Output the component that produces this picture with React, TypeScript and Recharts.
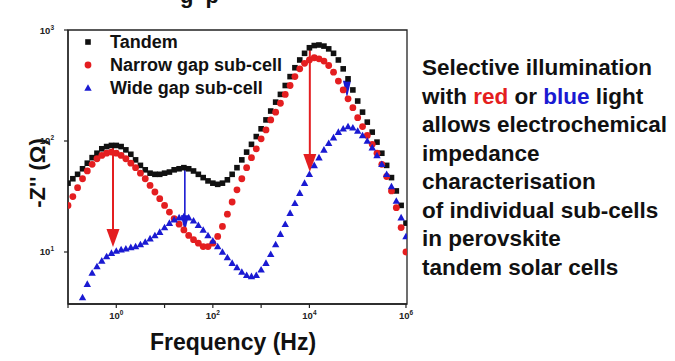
import { ScatterChart, Scatter, XAxis, YAxis, ReferenceLine, ReferenceArea, Legend } from 'recharts';

const FONT = '"Liberation Sans", Arial, Helvetica, sans-serif';

// frequency grid (Hz), 10 points per decade
const frequency = [
  0.1, 0.126, 0.158, 0.2, 0.251, 0.316, 0.398, 0.501, 0.631, 0.794,
  1, 1.26, 1.58, 2, 2.51, 3.16, 3.98, 5.01, 6.31, 7.94,
  10, 12.6, 15.8, 20, 25.1, 31.6, 39.8, 50.1, 63.1, 79.4,
  100, 126, 158, 200, 251, 316, 398, 501, 631, 794,
  1000, 1260, 1580, 2000, 2510, 3160, 3980, 5010, 6310, 7940,
  10000, 12600, 15800, 20000, 25100, 31600, 39800, 50100, 63100, 79400,
  100000, 126000, 158000, 200000, 251000, 316000, 398000, 501000, 631000, 794000,
  1000000,
];

// -Z'' (ohm)
const tandem = [
  41.7, 45.7, 50.1, 56.2, 63.1, 70.8, 77.6, 85.1, 89.1, 91.2,
  91.2, 89.1, 83.2, 75.9, 67.6, 60.3, 55.0, 51.3, 50.1, 50.1,
  51.3, 52.5, 55.0, 56.2, 57.5, 56.2, 53.7, 50.1, 46.8, 43.7,
  41.7, 40.7, 41.7, 44.7, 50.1, 57.5, 67.6, 79.4, 93.3, 109.6,
  128.8, 154.9, 186.2, 223.9, 263.0, 316.2, 380.2, 457.1, 537.0, 616.6,
  691.8, 724.4, 732.8, 716.1, 676.1, 616.6, 537.0, 446.7, 363.1, 288.4,
  229.1, 182.0, 147.9, 120.2, 97.7, 77.6, 60.3, 46.8, 35.5, 26.3,
  18.2,
];

const narrowGap = [
  26.3, 31.6, 38.0, 45.7, 53.7, 61.7, 69.2, 74.1, 77.6, 79.4,
  77.6, 74.1, 69.2, 63.1, 57.5, 51.3, 45.7, 39.8, 34.7, 30.2,
  26.3, 22.9, 20.0, 17.8, 15.8, 14.1, 12.9, 12.0, 11.2, 11.2,
  12.0, 13.8, 17.0, 21.9, 28.2, 36.3, 45.7, 57.5, 70.8, 85.1,
  104.7, 125.9, 154.9, 182.0, 218.8, 263.0, 316.2, 380.2, 446.7, 501.2,
  537.0, 562.3, 549.5, 524.8, 478.6, 416.9, 346.7, 288.4, 239.9, 199.5,
  162.2, 134.9, 112.2, 93.3, 77.6, 61.7, 47.9, 35.5, 25.1, 16.6,
  10.0,
];

const wideGap = [
  1.66, 2.19, 2.88, 3.89, 5.13, 6.46, 7.41, 8.32, 9.12, 9.77,
  10.2, 10.5, 10.7, 11.0, 11.2, 11.7, 12.3, 13.2, 14.1, 15.1,
  16.6, 18.2, 19.5, 20.4, 20.9, 20.4, 19.1, 17.4, 15.8, 14.1,
  12.6, 11.2, 10.0, 8.91, 7.94, 7.24, 6.61, 6.17, 6.03, 6.17,
  6.92, 7.94, 9.55, 11.7, 14.5, 17.8, 22.4, 27.5, 33.9, 41.7,
  50.1, 60.3, 70.8, 83.2, 95.5, 107.2, 120.2, 128.8, 134.9, 131.8,
  123.0, 112.2, 100, 87.1, 74.1, 61.7, 50.1, 38.9, 28.8, 20.4,
  13.8,
];

const seriesNames = ['Tandem', 'Narrow gap sub-cell', 'Wide gap sub-cell'];

const xTicks = [0.1, 1, 10, 100, 1000, 10000, 100000, 1000000];
const yTicks = [10, 100, 1000];

// arrows: frequency, start and end of -Z''
const arrows = [
  { f: 0.855, from: 90, to: 11.1, kind: 'red' },
  { f: 10200, from: 660, to: 52.5, kind: 'red' },
  { f: 26.3, from: 57, to: 15.1, kind: 'blue' },
  { f: 60000, from: 372, to: 245, kind: 'blue' },
];

const caption = [
  [{ t: 'Selective illumination' }],
  [{ t: 'with ' }, { t: 'red', c: 'red' }, { t: ' or ' }, { t: 'blue', c: 'blue' }, { t: ' light' }],
  [{ t: 'allows electrochemical' }],
  [{ t: 'impedance' }],
  [{ t: 'characterisation' }],
  [{ t: 'of individual sub-cells' }],
  [{ t: 'in perovskite' }],
  [{ t: 'tandem solar cells' }],
];

const RED = '#e41e20';
const BLUE = '#1a1ad2';
const BLACK = '#111';

const toPoints = (vals: number[]) => frequency.map((f, i) => ({ f, z: vals[i] }));

const marker = (type: string, cx: number, cy: number) => {
  if (type === 'square') return <rect x={cx - 2.8} y={cy - 2.8} width={5.6} height={5.6} fill={BLACK} />;
  if (type === 'triangle')
    return <polygon points={`${cx},${cy - 3.8} ${cx - 3.7},${cy + 2.8} ${cx + 3.7},${cy + 2.8}`} fill={BLUE} />;
  return <circle cx={cx} cy={cy} r={3.4} fill={RED} />;
};

const XTick = ({ x, y, payload }: any) => {
  const exp = Math.round(Math.log10(payload.value));
  if (exp % 2 !== 0) return <g />;
  return (
    <text x={x} y={y + 9} textAnchor="middle" fontSize={9.5} fontWeight="bold" fill="#222" fontFamily={FONT}>
      10<tspan dy={-4} fontSize={6.5}>{exp}</tspan>
    </text>
  );
};

const YTick = ({ x, y, payload }: any) => {
  const exp = Math.round(Math.log10(payload.value));
  return (
    <text x={x} y={y + 3.5} textAnchor="end" fontSize={9.5} fontWeight="bold" fill="#222" fontFamily={FONT}>
      10<tspan dy={-4} fontSize={6.5}>{exp}</tspan>
    </text>
  );
};

const arrowShape = (kind: string) => (props: any) => {
  const { x1, y1, x2, y2 } = props;
  const color = kind === 'red' ? RED : BLUE;
  const head = kind === 'red' ? 18 : 17;
  const half = kind === 'red' ? 6.5 : 4;
  return (
    <g>
      <line x1={x1} y1={y1} x2={x2} y2={y2 - head + 2} stroke={color} strokeWidth={kind === 'red' ? 2 : 1.6} />
      <polygon points={`${x2 - half},${y2 - head} ${x2 + half},${y2 - head} ${x2},${y2}`} fill={color} />
    </g>
  );
};

const LegendBox = ({ payload }: any) => {
  const items = [...(payload || [])].sort(
    (a: any, b: any) => seriesNames.indexOf(a.value) - seriesNames.indexOf(b.value),
  );
  return (
    <div>
      {items.map((e: any) => (
        <div key={e.value} style={{ display: 'flex', alignItems: 'center', height: 23 }}>
          <svg width={16} height={16} style={{ marginRight: 14 }}>{marker(e.type, 8, 8)}</svg>
          <span style={{ fontSize: 18, fontWeight: 700, color: BLACK, fontFamily: FONT, whiteSpace: 'nowrap' }}>{e.value}</span>
        </div>
      ))}
    </div>
  );
};

export default function App() {
  return (
    <div style={{ position: 'absolute', left: 0, top: 0, width: 675, height: 361, background: '#fff', overflow: 'hidden', fontFamily: FONT }}>
      <ScatterChart width={675} height={361} margin={{ top: 30, right: 268, bottom: 0, left: 0 }}>
        <XAxis
          type="number"
          dataKey="f"
          scale="log"
          domain={[0.1, 1050000]}
          ticks={xTicks}
          allowDataOverflow
          height={57}
          tickSize={4}
          tick={<XTick />}
          axisLine={{ stroke: '#222', strokeWidth: 1.3 }}
          tickLine={{ stroke: '#222', strokeWidth: 1.2 }}
          label={{
            content: () => (
              <text x={233} y={350} textAnchor="middle" fontSize={23} fontWeight="bold" fill={BLACK} fontFamily={FONT}>
                Frequency (Hz)
              </text>
            ),
          }}
        />
        <YAxis
          type="number"
          dataKey="z"
          scale="log"
          domain={[3.4, 1000]}
          ticks={yTicks}
          allowDataOverflow
          width={68}
          tickSize={4}
          tickMargin={10}
          tick={<YTick />}
          axisLine={{ stroke: '#222', strokeWidth: 1.3 }}
          tickLine={{ stroke: '#222', strokeWidth: 1.2 }}
          label={{
            content: () => (
              <text
                transform="translate(37,173) rotate(-90)"
                textAnchor="middle"
                dominantBaseline="central"
                fontSize={22}
                fontWeight="bold"
                fill={BLACK}
                fontFamily={FONT}
              >
                -Z'' (Ω)
              </text>
            ),
          }}
        />
        <ReferenceArea x1={0.1} x2={1050000} y1={3.4} y2={1000} fill="none" stroke="#222" strokeWidth={1.3} />
        <Scatter name={seriesNames[0]} data={toPoints(tandem)} fill={BLACK} legendType="square" isAnimationActive={false}
          shape={(p: any) => marker('square', p.cx, p.cy)} />
        <Scatter name={seriesNames[1]} data={toPoints(narrowGap)} fill={RED} legendType="circle" isAnimationActive={false}
          shape={(p: any) => marker('circle', p.cx, p.cy)} />
        <Scatter name={seriesNames[2]} data={toPoints(wideGap)} fill={BLUE} legendType="triangle" isAnimationActive={false}
          shape={(p: any) => marker('triangle', p.cx, p.cy)} />
        {arrows.map((a, i) => (
          <ReferenceLine
            key={i}
            segment={[{ x: a.f, y: a.from }, { x: a.f, y: a.to }]}
            shape={arrowShape(a.kind)}
          />
        ))}
        <Legend
          layout="vertical"
          align="center"
          verticalAlign="middle"
          content={<LegendBox />}
          wrapperStyle={{ left: 80, top: 30.5, width: 230 }}
        />
      </ScatterChart>

      <div style={{ position: 'absolute', left: 422, top: 54, fontSize: 22.5, lineHeight: '28.5px', fontWeight: 700, color: BLACK, whiteSpace: 'nowrap' }}>
        {caption.map((line, i) => (
          <div key={i}>
            {line.map((s: any, j) => (
              <span key={j} style={{ color: s.c === 'red' ? RED : s.c === 'blue' ? BLUE : BLACK }}>{s.t}</span>
            ))}
          </div>
        ))}
      </div>

      <div style={{ position: 'absolute', left: 180, top: -15.5, fontSize: 22, lineHeight: '22px', fontWeight: 700, color: BLACK }}>
        g<span style={{ marginLeft: 12 }}>p</span>
      </div>
    </div>
  );
}
